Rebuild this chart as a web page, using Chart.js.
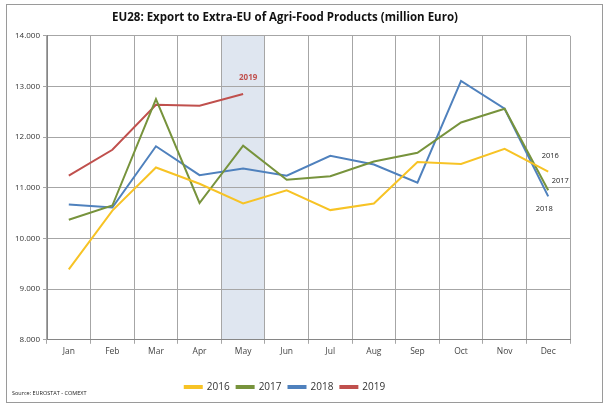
<!DOCTYPE html>
<html>
<head>
<meta charset="utf-8">
<script src="https://cdn.jsdelivr.net/npm/chart.js@4.4.1/dist/chart.umd.min.js"></script>
<style>
    html, body { margin: 0; padding: 0; background: #fff; }
    #wrap { position: relative; width: 612px; height: 408px; }
    #frame { position: absolute; left: 6px; top: 4px; width: 595px; height: 397px; border: 1px solid #9a9a9a; }
    canvas { position: absolute; left: 0; top: 0; }
</style>
</head>
<body>
<div id="wrap">
    <div id="frame"></div>
    <canvas id="exportChart" width="612" height="408"></canvas>
</div>
<script>
// Monthly exports, million Euro
const months = ['Jan', 'Feb', 'Mar', 'Apr', 'May', 'Jun', 'Jul', 'Aug', 'Sep', 'Oct', 'Nov', 'Dec'];
const exports2016 = [9390, 10550, 11400, 11080, 10690, 10950, 10560, 10690, 11510, 11470, 11770, 11320];
const exports2017 = [10370, 10650, 12750, 10700, 11830, 11160, 11230, 11520, 11690, 12290, 12560, 10950];
const exports2018 = [10670, 10610, 11820, 11250, 11380, 11240, 11630, 11460, 11100, 13110, 12560, 10830];
const exports2019 = [11240, 11750, 12640, 12620, 12850];
const yTicks = [8000, 9000, 10000, 11000, 12000, 13000, 14000];

const highlightMonth = 'May';
const fontFamily = "'Open Sans', sans-serif";

// Shaded current-month column behind the grid
const bandPlugin = {
    id: 'band',
    beforeDraw(chart) {
        const { ctx, chartArea, scales } = chart;
        const idx = months.indexOf(highlightMonth);
        const half = (scales.x.getPixelForValue(1) - scales.x.getPixelForValue(0)) / 2;
        const cx = scales.x.getPixelForValue(idx);
        ctx.save();
        ctx.fillStyle = '#dfe6f0';
        ctx.fillRect(cx - half, chartArea.top, half * 2, chartArea.bottom - chartArea.top);
        ctx.restore();
    }
};

// Series labels next to the lines, plus the source note
const notesPlugin = {
    id: 'notes',
    afterDatasetsDraw(chart) {
        const { ctx, scales } = chart;
        const x = scales.x, y = scales.y;
        const last = months.length - 1;
        ctx.save();
        ctx.textAlign = 'center';
        ctx.textBaseline = 'middle';

        ctx.fillStyle = '#c0504d';
        ctx.font = 'bold 8px ' + fontFamily;
        const i19 = exports2019.length - 1;
        ctx.fillText('2019', x.getPixelForValue(i19) + 5, y.getPixelForValue(exports2019[i19]) - 16);

        ctx.fillStyle = '#222';
        ctx.font = '7.5px ' + fontFamily;
        ctx.fillText('2016', x.getPixelForValue(last) + 2, y.getPixelForValue(exports2016[last]) - 16);
        ctx.fillText('2017', x.getPixelForValue(last) + 12, y.getPixelForValue(exports2017[last]) - 9);
        ctx.fillText('2018', x.getPixelForValue(last) - 4, y.getPixelForValue(exports2018[last]) + 12);

        ctx.textAlign = 'left';
        ctx.font = '5.5px ' + fontFamily;
        ctx.fillText('Source: EUROSTAT - COMEXT', 12, 393);
        ctx.restore();
    }
};

const line = (label, data, color) => ({
    label,
    data,
    borderColor: color,
    backgroundColor: color,
    borderWidth: 2,
    pointRadius: 0,
    tension: 0,
    fill: false
});

new Chart(document.getElementById('exportChart'), {
    type: 'line',
    data: {
        labels: months,
        datasets: [
            line('2016', exports2016, '#f7c325'),
            line('2017', exports2017, '#77933c'),
            line('2018', exports2018, '#4f81bd'),
            line('2019', exports2019, '#c0504d')
        ]
    },
    options: {
        responsive: false,
        animation: false,
        layout: { padding: { left: 0, right: 42, top: 0, bottom: 6 } },
        plugins: {
            title: {
                display: true,
                text: 'EU28: Export to Extra-EU of Agri-Food Products (million Euro)',
                color: '#111',
                font: { family: fontFamily, size: 11.5, weight: 'bold' },
                padding: { top: 11, bottom: 11 }
            },
            legend: {
                position: 'bottom',
                labels: {
                    color: '#333',
                    font: { family: fontFamily, size: 10 },
                    boxWidth: 17,
                    boxHeight: 2,
                    padding: 7
                }
            },
            tooltip: { enabled: false }
        },
        scales: {
            x: {
                offset: true,
                afterFit: scale => { scale.height += 15; },
                grid: { offset: true, color: '#a6a6a6', lineWidth: 1, tickLength: 4 },
                border: { color: '#868686' },
                ticks: { color: '#444', font: { family: fontFamily, size: 8.5 }, padding: 3 }
            },
            y: {
                min: 8000,
                max: 14000,
                afterFit: scale => { scale.width = 47; },
                afterBuildTicks: scale => { scale.ticks = yTicks.map(v => ({ value: v })); },
                grid: { color: '#a6a6a6', lineWidth: 1, tickLength: 4 },
                border: { color: '#868686' },
                ticks: {
                    color: '#333',
                    font: { family: fontFamily, size: 8 },
                    padding: 3,
                    callback: value => value.toLocaleString('de-DE', { minimumFractionDigits: 0 })
                }
            }
        }
    },
    plugins: [bandPlugin, notesPlugin]
});
</script>
</body>
</html>
